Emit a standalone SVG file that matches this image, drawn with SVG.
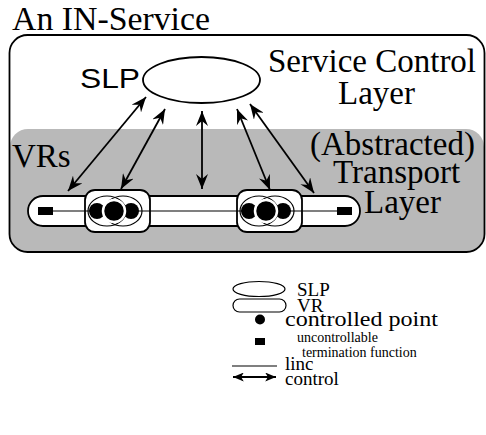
<svg xmlns="http://www.w3.org/2000/svg" width="486" height="435" viewBox="0 0 486 435">
  <style>
    .serif { font-family: "Liberation Serif", "Times New Roman", serif; fill: #000; }
    .sans { font-family: "Liberation Sans", Arial, sans-serif; fill: #000; }
    .outline { fill: none; stroke: #000; stroke-width: 1.8; }
    .vr { fill: #fff; stroke: #000; stroke-width: 1.8; }
    .thin { fill: none; stroke: #000; stroke-width: 1.2; }
    .ctrl { fill: none; stroke: #000; stroke-width: 1.8; marker-start: url(#head); marker-end: url(#head); }
    .dot { fill: #000; }
    .big { fill: #000; stroke: #fff; stroke-width: 2.5; }
  </style>
  <defs>
    <marker id="head" viewBox="0 0 15 12" refX="15" refY="6" markerWidth="15" markerHeight="12" markerUnits="userSpaceOnUse" orient="auto-start-reverse">
      <path d="M0,0 L15,6 L0,12 L5,6 Z" fill="#000"/>
    </marker>
    <marker id="headSmall" viewBox="0 0 12 10" refX="12" refY="5" markerWidth="11" markerHeight="9" markerUnits="userSpaceOnUse" orient="auto-start-reverse">
      <path d="M0,0 L12,5 L0,10 L3,5 Z" fill="#000"/>
    </marker>
  </defs>

  <!-- title -->
  <text class="serif" x="12" y="30" font-size="33" textLength="198" lengthAdjust="spacingAndGlyphs">An IN-Service</text>

  <!-- service boundary with transport layer band -->
  <g id="in-service">
    <rect x="10" y="129" width="474" height="123" rx="18" fill="#b9b9b9"/>
    <rect class="outline" x="9.5" y="35" width="475" height="217" rx="18"/>
    <text class="serif" x="268" y="72" font-size="33">Service Control</text>
    <text class="serif" x="338" y="104" font-size="33">Layer</text>
    <text class="serif" x="310" y="155" font-size="33">(Abstracted)</text>
    <text class="serif" x="333" y="183" font-size="33">Transport</text>
    <text class="serif" x="364" y="213" font-size="33">Layer</text>
  </g>

  <!-- service logic program -->
  <g id="slp">
    <ellipse class="outline" cx="201.5" cy="80" rx="58.5" ry="23" fill="#fff"/>
    <text class="sans" x="80" y="88" font-size="28" textLength="60" lengthAdjust="spacingAndGlyphs">SLP</text>
  </g>

  <!-- virtual resources -->
  <g id="vr-chain">
    <text class="serif" x="12" y="167" font-size="33">VRs</text>
    <rect class="vr" x="28" y="196" width="332" height="30" rx="15"/>
    <line class="thin" x1="45" y1="211" x2="345" y2="211"/>
    <rect class="dot" x="38" y="207" width="15" height="8"/>
    <rect class="dot" x="337" y="207" width="15" height="8"/>
  </g>

  <g id="cp-left">
    <rect class="vr" x="85" y="190" width="65" height="42" rx="10"/>
    <line class="thin" x1="85" y1="211" x2="150" y2="211"/>
    <ellipse class="thin" cx="107" cy="211" rx="19" ry="15"/>
    <ellipse class="thin" cx="123" cy="211" rx="19" ry="15"/>
    <circle class="dot" cx="97" cy="211" r="8"/>
    <circle class="dot" cx="131" cy="211" r="8"/>
    <circle class="big" cx="114" cy="211" r="11"/>
  </g>

  <g id="cp-right">
    <rect class="vr" x="237" y="190" width="65" height="42" rx="10"/>
    <line class="thin" x1="237" y1="211" x2="302" y2="211"/>
    <ellipse class="thin" cx="259" cy="211" rx="19" ry="15"/>
    <ellipse class="thin" cx="275" cy="211" rx="19" ry="15"/>
    <circle class="dot" cx="249" cy="211" r="8"/>
    <circle class="dot" cx="283" cy="211" r="8"/>
    <circle class="big" cx="266" cy="211" r="11"/>
  </g>

  <!-- control connectors -->
  <g id="connectors">
    <line class="ctrl" x1="146" y1="97" x2="68" y2="191"/>
    <line class="ctrl" x1="165" y1="109" x2="121" y2="189"/>
    <line class="ctrl" x1="202" y1="111" x2="202" y2="189"/>
    <line class="ctrl" x1="237" y1="109" x2="270" y2="190"/>
    <line class="ctrl" x1="250" y1="104" x2="314" y2="193"/>
  </g>

  <!-- legend -->
  <g id="legend">
    <ellipse class="thin" cx="259" cy="289" rx="26" ry="7.5" stroke-width="1.5"/>
    <text class="serif" x="297" y="296" font-size="19">SLP</text>
    <rect class="thin" x="233" y="299" width="53" height="13" rx="6.5" stroke-width="1.5"/>
    <text class="serif" x="297" y="312" font-size="19">VR</text>
    <circle class="dot" cx="260" cy="319.5" r="5"/>
    <text class="serif" x="285" y="326" font-size="20" textLength="153" lengthAdjust="spacingAndGlyphs">controlled point</text>
    <rect class="dot" x="255" y="338" width="10" height="7"/>
    <text class="serif" x="297" y="342" font-size="14">uncontrollable</text>
    <text class="serif" x="302" y="357" font-size="14">termination function</text>
    <line x1="232" y1="366" x2="277" y2="366" stroke="#000" stroke-width="1.2"/>
    <text class="serif" x="285" y="370" font-size="19">linc</text>
    <line x1="233" y1="377" x2="276" y2="377" stroke="#000" stroke-width="1.8" marker-start="url(#headSmall)" marker-end="url(#headSmall)"/>
    <text class="serif" x="285" y="385" font-size="19">control</text>
  </g>
</svg>
